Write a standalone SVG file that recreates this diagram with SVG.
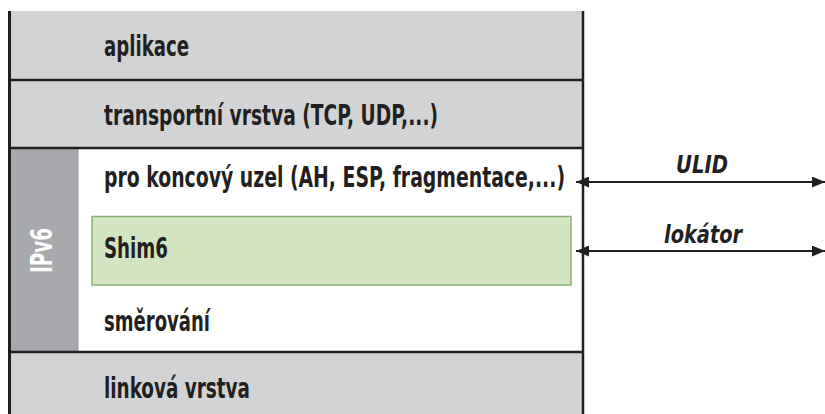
<svg xmlns="http://www.w3.org/2000/svg" width="825" height="414" viewBox="0 0 825 414">
<style>
.lbl{font-family:"Liberation Sans Narrow","DejaVu Sans Condensed","Liberation Sans",sans-serif;font-weight:bold;font-size:28px;fill:#231f20;font-stretch:condensed}
.ital{font-family:"Liberation Sans Narrow","DejaVu Sans Condensed","Liberation Sans",sans-serif;font-weight:bold;font-style:italic;font-size:25px;fill:#231f20}
.grey{fill:#d1d3d4}
.sep{stroke:#231f20;stroke-width:2.5;fill:none}
.conn{stroke:#231f20;stroke-width:2;fill:none}
</style>
<defs>
<marker id="ah" viewBox="0 0 13 11" refX="13" refY="5.5" markerWidth="13" markerHeight="11" markerUnits="userSpaceOnUse" orient="auto-start-reverse">
<path d="M0,0 L13,5.5 L0,11 Z" fill="#231f20"/>
</marker>
</defs>
<rect width="825" height="414" fill="#ffffff"/>
<g id="aplikace">
<rect class="grey" x="10" y="11" width="573" height="69"/>
<text class="lbl" x="104" y="56" textLength="85" lengthAdjust="spacingAndGlyphs">aplikace</text>
</g>
<g id="transport">
<rect class="grey" x="10" y="80" width="573" height="68"/>
<text class="lbl" x="104" y="125" textLength="334" lengthAdjust="spacingAndGlyphs">transportní vrstva (TCP, UDP,...)</text>
</g>
<g id="ipv6">
<rect x="10" y="148" width="573" height="204" fill="#ffffff"/>
<rect x="10" y="148" width="68" height="204" fill="#a7a9ac"/>
<line x1="78" y1="148" x2="78" y2="352" stroke="#939598" stroke-width="1"/>
<text x="0" y="0" transform="translate(52,273) rotate(-90)" font-family="'Liberation Sans Narrow','DejaVu Sans Condensed','Liberation Sans',sans-serif" font-weight="bold" font-size="31" fill="#ffffff" textLength="45" lengthAdjust="spacingAndGlyphs">IPv6</text>
</g>
<g id="koncovy">
<text class="lbl" x="104" y="187" textLength="461" lengthAdjust="spacingAndGlyphs">pro koncový uzel (AH, ESP, fragmentace,...)</text>
</g>
<g id="shim6">
<rect x="92" y="216.5" width="479" height="68.5" fill="#d3e4c0" stroke="#8db174" stroke-width="1.5"/>
<text class="lbl" x="104" y="258" textLength="64" lengthAdjust="spacingAndGlyphs">Shim6</text>
</g>
<g id="smerovani">
<text class="lbl" x="104" y="331" textLength="106" lengthAdjust="spacingAndGlyphs">směrování</text>
</g>
<g id="linkova">
<rect class="grey" x="10" y="352" width="573" height="62"/>
<text class="lbl" x="104" y="398" textLength="146" lengthAdjust="spacingAndGlyphs">linková vrstva</text>
</g>
<g id="frame">
<line class="sep" x1="10" y1="80" x2="583" y2="80"/>
<line class="sep" x1="10" y1="148" x2="583" y2="148"/>
<line class="sep" x1="10" y1="352" x2="583" y2="352"/>
<line x1="9.5" y1="11" x2="9.5" y2="414" stroke="#231f20" stroke-width="3"/>
<line x1="583" y1="11" x2="583" y2="414" stroke="#231f20" stroke-width="2.5"/>
</g>
<g id="connectors">
<line class="conn" x1="576" y1="182" x2="825" y2="182" marker-start="url(#ah)" marker-end="url(#ah)"/>
<text class="ital" x="676" y="173" textLength="52" lengthAdjust="spacingAndGlyphs">ULID</text>
<line class="conn" x1="576" y1="251" x2="825" y2="251" marker-start="url(#ah)" marker-end="url(#ah)"/>
<text class="ital" x="664" y="243" textLength="78" lengthAdjust="spacingAndGlyphs">lokátor</text>
</g>
</svg>
